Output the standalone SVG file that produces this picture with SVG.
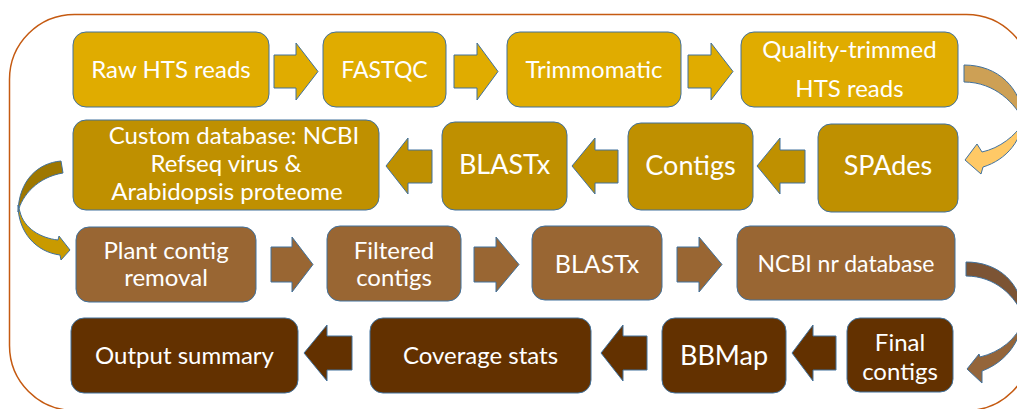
<svg xmlns="http://www.w3.org/2000/svg" width="1017" height="409" viewBox="0 0 1017 409">
<style>
.bx{stroke:#41719C;stroke-width:1}
.r1{fill:#E0AC00}.r2{fill:#BF9000}.r3{fill:#996633}.r4{fill:#633100}
.ar{stroke:#41719C;stroke-width:1}
.t{font-family:Lato,"Open Sans","Liberation Sans",sans-serif;fill:#FFFFFF;text-anchor:middle}
.s23{font-size:23px}.s24{font-size:24px}.s27{font-size:27px}.s25{font-size:25px}
</style>
<rect x="9.5" y="14.5" width="1022" height="396" rx="65" ry="65" fill="#FFFFFF" stroke="#C55A11" stroke-width="1.5"/>
<g id="connectors">
<polygon class="ar r1" points="274,55 296,55 296,43 318,71.5 296,100 296,88 274,88"/>
<polygon class="ar r1" points="454,55 477,55 477,43 498,71.5 477,100 477,88 454,88"/>
<polygon class="ar r1" points="688,55 711,55 711,43 733,71.5 711,100 711,88 688,88"/>
<path class="ar" fill="#CDA055" d="M964,65 C998,65 1022,88 1024,122 C1016,104 995,82 964,82 Z"/>
<path class="ar" fill="#FFC966" d="M1024,112 C1024,140 1006,160 983,167 L981,174 L965,160 L977,144 L982,152 C1000,148 1015,136 1024,122 Z"/>
<polygon class="ar r2" points="432,150 408,150 408,138 386,166 408,194 408,183 432,183"/>
<polygon class="ar r2" points="618,150 595,150 595,138 572,166 595,194 595,183 618,183"/>
<polygon class="ar r2" points="805,150 780,150 780,138 757,166 780,194 780,183 805,183"/>
<path class="ar" fill="#9E7700" d="M61,161 C38,163 19,180 18,212 C22,195 38,177 63,173 Z"/>
<path class="ar" fill="#C99A00" d="M18,205 C18,232 36,252 60,255 L61,260 L70,250 L59,236 L58,240 C40,238 24,228 20,212 Z"/>
<polygon class="ar r3" points="271,247 292,247 292,237 313,264.5 292,292 292,282 271,282"/>
<polygon class="ar r3" points="474,247 496,247 496,237 519,264.5 496,292 496,282 474,282"/>
<polygon class="ar r3" points="677,247 699,247 699,237 722,264.5 699,292 699,282 677,282"/>
<path class="ar" fill="#7C5434" d="M966,262 C998,262 1022,282 1024,318 C1016,296 995,276 966,276 Z"/>
<path class="ar" fill="#94653A" d="M1024,308 C1024,340 1006,362 982,371 L982,383 L967,369 L979,354 L980,357 C1000,352 1016,340 1024,320 Z"/>
<polygon class="ar r4" points="352,336 327,336 327,325 304,353 327,381 327,370 352,370"/>
<polygon class="ar r4" points="647,336 623,336 623,325 601,353 623,381 623,370 647,370"/>
<polygon class="ar r4" points="836,336 813,336 813,325 792,353 813,381 813,370 836,370"/>
</g>
<g id="raw-hts"><rect class="bx r1" x="73" y="32" width="196" height="75" rx="13"/><text class="t s24" x="171" y="78">Raw HTS reads</text></g>
<g id="fastqc"><rect class="bx r1" x="323" y="32" width="123" height="75" rx="13"/><text class="t s23" x="384.5" y="78">FASTQC</text></g>
<g id="trimmomatic"><rect class="bx r1" x="507" y="32" width="174" height="75" rx="13"/><text class="t s24" x="594" y="78">Trimmomatic</text></g>
<g id="quality-trimmed"><rect class="bx r1" x="741" y="32" width="217" height="75" rx="13"/><text class="t s24" x="849.5" y="58">Quality-trimmed</text><text class="t s24" x="849.5" y="97">HTS reads</text></g>
<g id="custom-db"><rect class="bx r2" x="73" y="120" width="306" height="90" rx="13"/><text class="t s24" x="234" y="144">Custom database: NCBI</text><text class="t s24" x="226" y="172">Refseq virus &amp;</text><text class="t s24" x="227" y="200">Arabidopsis proteome</text></g>
<g id="blastx-1"><rect class="bx r2" x="442" y="122" width="125" height="88" rx="13"/><text class="t s27" x="504.5" y="174">BLASTx</text></g>
<g id="contigs"><rect class="bx r2" x="628" y="123" width="125" height="87" rx="13"/><text class="t s27" x="690.5" y="175">Contigs</text></g>
<g id="spades"><rect class="bx r2" x="818" y="124" width="140" height="88" rx="13"/><text class="t s27" x="888" y="175">SPAdes</text></g>
<g id="plant-removal"><rect class="bx r3" x="76" y="227" width="180" height="75" rx="13"/><text class="t s24" x="166" y="259">Plant contig</text><text class="t s24" x="166" y="286">removal</text></g>
<g id="filtered"><rect class="bx r3" x="327" y="226" width="134" height="75" rx="13"/><text class="t s24" x="394" y="259">Filtered</text><text class="t s24" x="394" y="286">contigs</text></g>
<g id="blastx-2"><rect class="bx r3" x="532" y="226" width="130" height="74" rx="13"/><text class="t s25" x="597" y="273">BLASTx</text></g>
<g id="ncbi-nr"><rect class="bx r3" x="737" y="226" width="218" height="74" rx="13"/><text class="t s23" x="846" y="272">NCBI nr database</text></g>
<g id="final-contigs"><rect class="bx r4" x="847" y="318" width="106" height="74" rx="13"/><text class="t s24" x="900" y="351">Final</text><text class="t s24" x="900" y="380">contigs</text></g>
<g id="bbmap"><rect class="bx r4" x="662" y="318" width="124" height="75" rx="13"/><text class="t s27" x="724" y="365">BBMap</text></g>
<g id="coverage"><rect class="bx r4" x="370" y="318" width="221" height="75" rx="13"/><text class="t s24" x="480.5" y="364">Coverage stats</text></g>
<g id="output"><rect class="bx r4" x="71" y="318" width="227" height="75" rx="13"/><text class="t s24" x="184.5" y="364">Output summary</text></g>
</svg>
